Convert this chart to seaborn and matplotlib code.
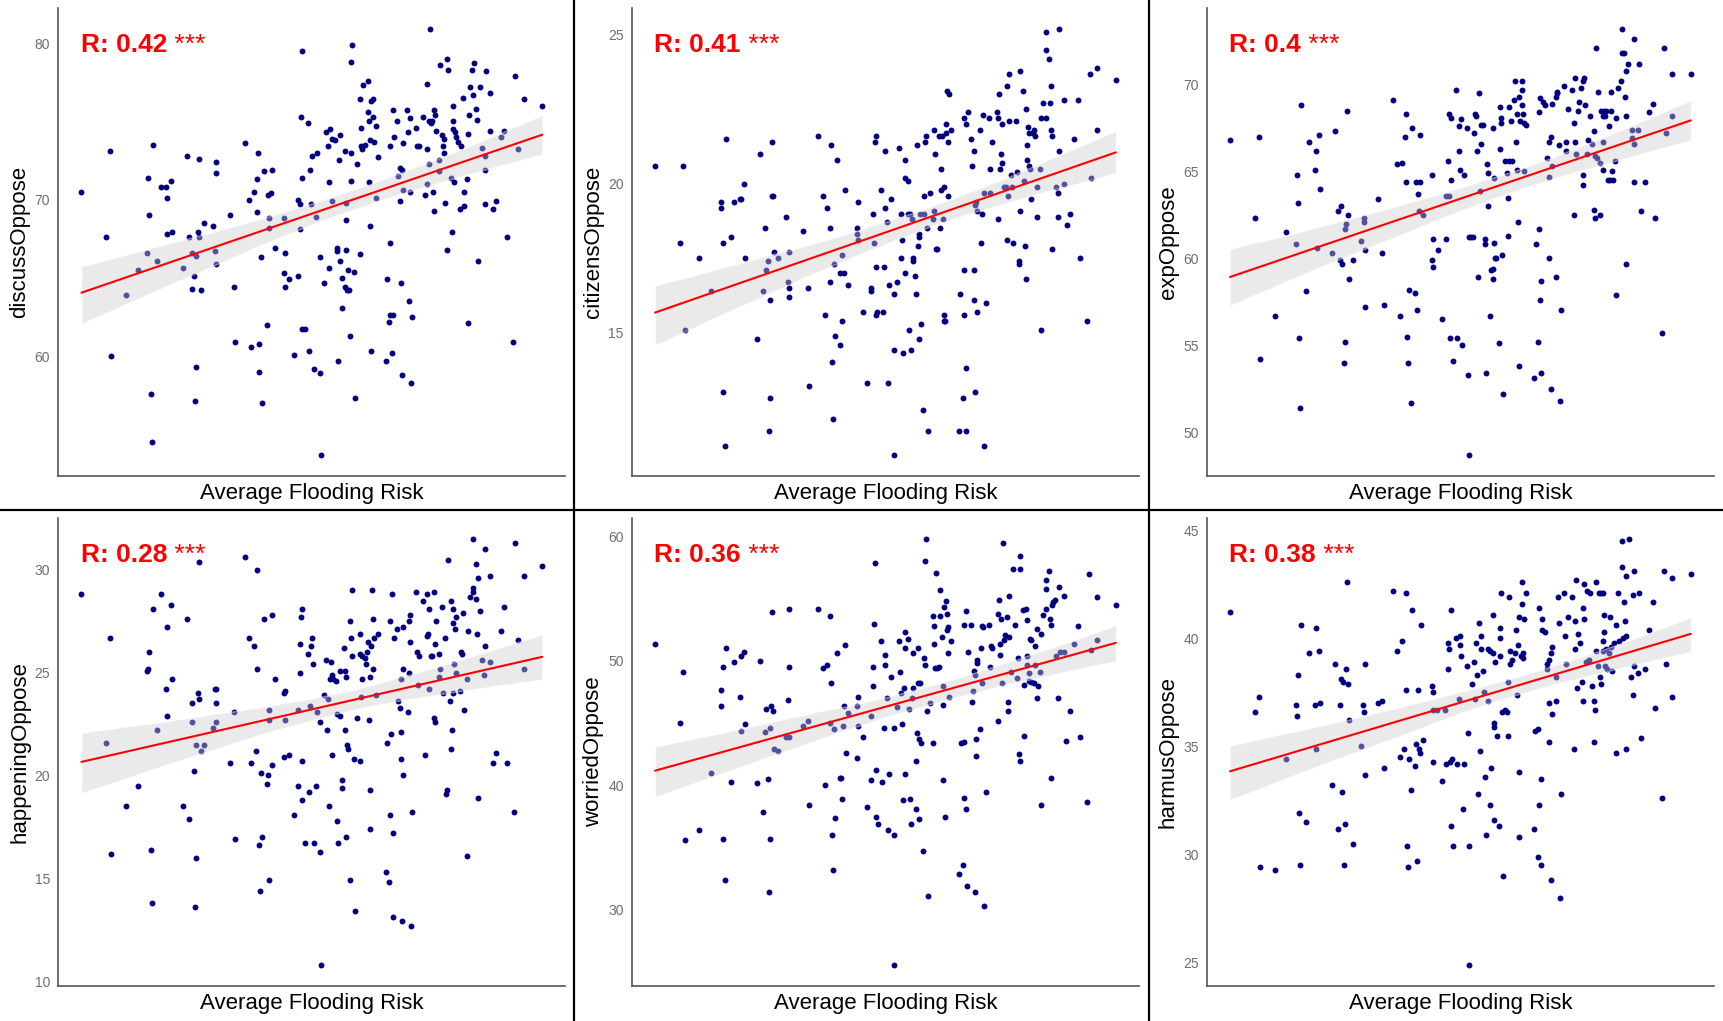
import pandas as pd
import matplotlib.pyplot as plt
import seaborn as sns
from matplotlib.lines import Line2D

# (average flooding risk, % oppose)
discuss_pts = [(2.26,70.5),(2.94,67.6),(3.05,73.1),(3.08,60.0),(3.48,63.9),(3.80,65.5),(4.06,66.6),(4.08,71.4),(4.12,69.0),(4.16,57.6),(4.19,54.5),(4.22,73.5),(4.34,66.1),(4.45,70.8),(4.59,70.8),(4.62,70.1),(4.61,67.8),(4.74,67.9),(4.72,71.2),(5.06,65.6),(5.17,72.8),(5.22,67.6),(5.30,66.6),(5.34,65.1),(5.30,64.3),(5.38,57.1),(5.41,59.3),(5.42,66.4),(5.45,67.9),(5.49,67.6),(5.48,72.6),(5.54,64.2),(5.63,68.5),(5.86,68.3),(5.92,66.7),(5.95,72.4),(5.96,71.7),(5.96,65.9),(6.33,69.0),(6.46,64.4),(6.49,60.9),(6.75,73.6),(6.87,70.0),(6.93,60.6),(7.00,70.5),(7.08,69.2),(7.07,71.3),(7.10,73.0),(7.13,60.8),(7.15,59.0),(7.19,66.3),(7.22,57.0),(7.28,71.8),(7.35,62.0),(7.38,70.3),(7.41,68.8),(7.42,68.2),(7.48,70.4),(7.50,71.9),(7.57,66.9),(7.83,68.8),(7.85,66.6),(7.83,65.3),(7.85,64.4),(7.97,64.9),(8.11,60.1),(8.20,65.1),(8.26,68.1),(8.22,70.0),(8.26,69.7),(8.29,75.3),(8.31,79.5),(8.33,71.4),(8.33,61.7),(8.39,61.7),(8.48,74.9),(8.51,60.3),(8.53,71.9),(8.57,69.7),(8.58,72.8),(8.66,59.2),(8.70,68.9),(8.74,73.0),(8.81,58.9),(8.83,53.7),(8.82,66.3),(8.92,64.7),(8.99,74.3),(9.03,73.4),(9.05,71.1),(9.07,65.6),(9.10,74.5),(9.13,69.9),(9.15,73.9),(9.22,73.8),(9.28,66.9),(9.29,66.7),(9.30,59.7),(9.33,72.5),(9.35,74.1),(9.36,66.1),(9.42,65.0),(9.43,63.1),(9.50,73.1),(9.50,64.4),(9.52,69.8),(9.52,68.7),(9.53,66.8),(9.55,64.2),(9.57,65.5),(9.60,64.2),(9.65,61.3),(9.67,71.2),(9.67,73.0),(9.67,78.8),(9.70,79.9),(9.75,65.4),(9.78,57.3),(9.83,72.3),(9.90,66.5),(9.91,76.4),(9.93,74.6),(9.93,73.4),(10.00,77.3),(9.98,73.2),(10.05,73.5),(10.12,77.6),(10.13,75.6),(10.15,71.1),(10.16,75.0),(10.18,68.3),(10.19,73.8),(10.21,60.3),(10.22,76.3),(10.26,76.4),(10.28,75.3),(10.30,73.7),(10.34,74.7),(10.35,70.1),(10.40,72.7),(10.63,59.7),(10.65,64.9),(10.72,62.2),(10.75,73.4),(10.75,67.2),(10.75,62.6),(10.81,75.7),(10.80,60.2),(10.83,62.6),(10.85,74.0),(10.93,75.0),(10.97,71.5),(11.00,69.9),(11.01,72.0),(11.04,64.7),(11.06,58.8),(11.08,71.9),(11.10,70.6),(11.10,73.6),(11.21,75.7),(11.24,74.3),(11.25,63.5),(11.28,75.2),(11.29,70.5),(11.32,58.3),(11.35,62.5),(11.46,74.6),(11.49,73.4),(11.52,73.4),(11.65,75.3),(11.70,70.3),(11.74,77.4),(11.74,73.2),(11.76,71.0),(11.80,72.3),(11.83,80.9),(11.80,75.0),(11.86,74.9),(11.90,75.0),(11.93,70.5),(11.94,69.3),(11.95,75.7),(11.97,75.4),(12.00,74.4),(12.07,72.5),(12.09,71.8),(12.11,78.6),(12.17,74.1),(12.20,73.4),(12.22,73.9),(12.25,69.8),(12.29,66.8),(12.31,79.0),(12.33,78.3),(12.21,73.0),(12.40,71.4),(12.43,67.9),(12.46,76.0),(12.46,75.0),(12.48,74.5),(12.50,71.1),(12.52,74.3),(12.56,74.0),(12.60,73.7),(12.65,69.4),(12.70,73.4),(12.74,76.5),(12.76,69.6),(12.77,70.5),(12.85,71.3),(12.87,62.1),(12.88,74.2),(12.92,75.4),(12.94,77.2),(13.00,78.3),(13.02,76.7),(13.05,78.7),(13.11,75.8),(13.14,75.1),(13.16,66.1),(13.21,77.2),(13.27,73.3),(13.34,72.8),(13.34,71.9),(13.34,69.7),(13.37,78.2),(13.49,76.8),(13.49,74.4),(13.56,69.4),(13.66,69.9),(13.78,74.0),(13.87,74.4),(13.94,67.6),(14.12,60.9),(14.18,77.9),(14.26,73.2),(14.41,76.4),(14.92,76.0)]

citizens_pts = [(2.22,20.6),(2.90,18.0),(2.99,20.6),(3.04,15.1),(3.43,17.5),(3.75,16.4),(4.01,19.4),(4.03,19.2),(4.06,18.0),(4.08,13.0),(4.12,11.2),(4.16,21.5),(4.28,18.2),(4.37,19.4),(4.54,19.5),(4.57,19.5),(4.65,20.0),(4.67,17.5),(5.01,14.8),(5.09,21.0),(5.16,16.4),(5.21,18.5),(5.24,17.1),(5.29,17.4),(5.32,11.7),(5.34,12.8),(5.35,16.1),(5.40,21.4),(5.40,19.6),(5.44,19.6),(5.47,17.7),(5.56,17.5),(5.78,18.9),(5.84,16.7),(5.87,16.5),(5.88,16.2),(5.88,17.7),(6.26,18.4),(6.38,16.5),(6.42,13.2),(6.66,21.6),(6.79,19.6),(6.85,15.6),(6.90,19.2),(6.98,16.7),(7.00,18.5),(7.01,21.3),(7.03,14.0),(7.07,12.1),(7.11,17.3),(7.13,14.9),(7.18,20.8),(7.26,14.6),(7.27,17.0),(7.31,15.4),(7.31,17.6),(7.36,17.0),(7.41,19.8),(7.47,16.6),(7.72,18.5),(7.73,18.3),(7.74,19.4),(7.75,18.1),(7.88,15.7),(8.00,13.3),(8.10,16.5),(8.11,16.4),(8.16,19.0),(8.18,18.0),(8.21,21.4),(8.23,21.6),(8.23,17.2),(8.23,15.6),(8.27,15.7),(8.38,19.8),(8.42,15.7),(8.45,17.2),(8.48,21.1),(8.49,19.2),(8.53,18.7),(8.56,13.3),(8.59,16.6),(8.66,19.5),(8.72,16.3),(8.73,14.4),(8.73,10.9),(8.81,16.7),(8.87,21.2),(8.92,19.0),(8.93,17.5),(8.94,18.1),(8.98,14.3),(9.03,20.8),(9.04,17.0),(9.04,20.2),(9.11,20.1),(9.12,19.0),(9.15,15.1),(9.18,19.0),(9.20,14.4),(9.22,18.8),(9.25,17.5),(9.26,17.4),(9.31,16.9),(9.32,16.3),(9.37,21.3),(9.38,17.9),(9.41,18.3),(9.41,18.2),(9.42,14.8),(9.43,19.0),(9.47,15.3),(9.53,12.4),(9.56,19.0),(9.56,19.6),(9.58,21.4),(9.61,21.6),(9.64,18.5),(9.67,11.7),(9.72,19.7),(9.79,18.8),(9.82,19.1),(9.82,21.8),(9.86,21.0),(9.87,17.8),(9.90,17.8),(9.97,21.6),(9.99,18.5),(10.01,20.5),(10.02,19.8),(10.04,21.6),(10.07,18.8),(10.09,15.4),(10.10,19.9),(10.10,15.6),(10.11,15.4),(10.14,21.7),(10.16,22.0),(10.17,23.1),(10.20,21.4),(10.21,19.6),(10.23,23.0),(10.29,21.8),(10.51,11.7),(10.54,16.3),(10.61,12.8),(10.63,17.1),(10.64,22.2),(10.64,15.6),(10.70,13.8),(10.70,11.7),(10.70,22.0),(10.75,22.4),(10.82,21.5),(10.86,20.6),(10.91,21.1),(10.92,17.1),(10.92,16.1),(10.94,19.3),(10.95,13.0),(10.97,19.4),(10.99,19.1),(10.99,15.7),(11.09,21.8),(11.10,18.0),(11.14,19.0),(11.17,22.3),(11.18,19.7),(11.20,11.2),(11.24,16.0),(11.33,22.2),(11.35,20.5),(11.36,19.7),(11.41,21.4),(11.53,22.4),(11.56,22.2),(11.58,18.8),(11.60,23.0),(11.63,20.5),(11.65,21.0),(11.67,20.7),(11.67,22.0),(11.73,19.9),(11.78,19.9),(11.82,18.1),(11.82,23.3),(11.84,19.6),(11.86,22.1),(11.86,23.7),(11.93,20.3),(11.96,19.9),(11.98,18.0),(12.05,22.1),(12.08,20.4),(12.15,17.3),(12.15,17.4),(12.17,19.1),(12.18,23.8),(12.25,23.1),(12.27,20.1),(12.31,17.9),(12.33,16.8),(12.34,22.5),(12.36,21.3),(12.36,20.8),(12.38,21.9),(12.40,20.6),(12.41,21.7),(12.44,20.5),(12.48,19.5),(12.52,21.7),(12.56,21.8),(12.58,21.6),(12.63,18.9),(12.64,19.9),(12.70,20.5),(12.73,15.1),(12.75,22.2),(12.80,22.7),(12.89,25.1),(12.89,24.5),(12.89,22.2),(12.95,24.2),(12.99,22.7),(13.00,23.3),(13.00,21.8),(13.03,17.8),(13.05,21.6),(13.15,19.9),(13.20,19.7),(13.21,18.9),(13.22,21.1),(13.24,25.2),(13.36,22.8),(13.38,20.0),(13.44,18.6),(13.52,19.0),(13.64,21.5),(13.74,22.8),(13.81,17.5),(13.99,15.4),(14.07,23.7),(14.11,20.2),(14.27,23.9),(14.27,21.8),(14.78,23.5)]

exp_pts = [(2.20,66.8),(2.89,62.3),(2.98,67.0),(3.02,54.2),(3.43,56.7),(3.74,61.5),(3.99,60.8),(4.02,64.8),(4.05,63.2),(4.08,55.4),(4.11,51.4),(4.14,68.8),(4.27,58.1),(4.36,66.7),(4.51,65.1),(4.56,66.2),(4.58,60.6),(4.64,67.1),(4.67,64.0),(4.99,60.3),(5.08,67.3),(5.15,62.7),(5.22,63.0),(5.19,59.9),(5.26,59.7),(5.31,54.0),(5.33,55.2),(5.33,61.7),(5.38,62.0),(5.40,68.5),(5.43,62.5),(5.46,58.8),(5.56,59.9),(5.78,61.0),(5.85,62.3),(5.87,62.1),(5.88,60.5),(5.88,57.2),(6.25,63.4),(6.36,60.3),(6.41,57.3),(6.65,69.1),(6.76,65.4),(6.85,56.7),(6.90,65.5),(6.97,67.0),(7.00,68.3),(7.00,64.4),(7.03,55.5),(7.06,54.0),(7.09,58.2),(7.13,51.7),(7.18,67.5),(7.24,58.0),(7.28,64.4),(7.31,57.0),(7.34,63.7),(7.36,62.7),(7.40,64.4),(7.40,67.1),(7.46,62.5),(7.72,64.8),(7.72,59.9),(7.74,61.1),(7.75,59.5),(7.87,60.5),(8.00,56.5),(8.10,63.6),(8.11,61.1),(8.16,65.6),(8.18,63.6),(8.19,68.3),(8.21,55.4),(8.22,64.5),(8.23,68.1),(8.28,54.1),(8.38,69.7),(8.39,55.4),(8.44,66.2),(8.45,67.6),(8.48,65.1),(8.52,68.0),(8.53,55.0),(8.59,64.8),(8.66,67.5),(8.71,53.3),(8.72,48.7),(8.72,61.2),(8.78,61.2),(8.83,61.2),(8.86,67.2),(8.89,68.3),(8.91,68.2),(8.94,66.2),(8.96,58.9),(9.00,69.5),(9.03,63.9),(9.05,66.6),(9.06,67.7),(9.12,67.7),(9.16,61.1),(9.16,60.8),(9.19,53.4),(9.22,65.4),(9.25,64.9),(9.25,63.0),(9.31,56.7),(9.32,59.3),(9.37,67.5),(9.37,58.8),(9.39,59.4),(9.41,64.6),(9.41,60.9),(9.44,60.0),(9.47,60.0),(9.54,55.1),(9.56,66.3),(9.57,68.7),(9.60,68.1),(9.59,67.8),(9.63,60.2),(9.65,52.2),(9.70,65.6),(9.76,64.9),(9.78,61.3),(9.79,63.5),(9.81,65.6),(9.83,68.7),(9.88,67.9),(9.90,65.6),(9.96,69.1),(9.99,70.2),(10.00,66.7),(10.03,68.3),(10.03,65.1),(10.06,62.1),(10.08,69.3),(10.10,53.8),(10.12,67.9),(10.16,70.2),(10.16,69.7),(10.18,68.8),(10.20,68.3),(10.22,65.0),(10.22,67.8),(10.27,67.7),(10.51,53.1),(10.55,60.8),(10.61,55.2),(10.64,68.4),(10.64,61.7),(10.65,57.6),(10.67,69.2),(10.70,58.7),(10.70,53.4),(10.74,69.0),(10.80,68.8),(10.85,65.8),(10.90,64.7),(10.91,66.7),(10.92,60.0),(10.95,52.5),(10.97,67.0),(10.98,68.9),(11.00,65.3),(11.10,69.3),(11.10,58.9),(11.12,69.5),(11.13,69.6),(11.18,66.5),(11.20,51.8),(11.24,57.0),(11.33,69.9),(11.36,66.7),(11.36,66.2),(11.42,68.6),(11.54,69.7),(11.58,62.5),(11.60,67.8),(11.62,70.4),(11.63,66.7),(11.64,66.0),(11.71,68.5),(11.73,69.0),(11.77,69.8),(11.83,64.8),(11.84,64.2),(11.85,70.2),(11.86,70.4),(11.88,68.8),(11.95,66.0),(11.98,66.8),(12.03,68.2),(12.08,66.6),(12.13,67.3),(12.14,62.8),(12.16,62.3),(12.17,65.9),(12.20,72.1),(12.23,65.8),(12.26,69.6),(12.29,62.5),(12.29,65.5),(12.34,68.5),(12.37,66.7),(12.38,68.2),(12.39,65.1),(12.40,68.5),(12.43,68.2),(12.47,68.5),(12.52,64.5),(12.56,67.6),(12.58,64.5),(12.59,68.5),(12.61,69.6),(12.64,65.0),(12.66,64.5),(12.70,65.6),(12.73,57.9),(12.74,68.1),(12.80,69.8),(12.87,70.2),(12.90,73.2),(12.89,71.8),(12.97,71.8),(12.98,69.3),(13.01,70.8),(13.02,68.2),(13.02,59.7),(13.06,71.2),(13.17,67.4),(13.18,66.9),(13.22,64.4),(13.22,66.6),(13.24,72.6),(13.35,67.4),(13.36,71.2),(13.42,62.7),(13.53,64.4),(13.65,68.4),(13.74,68.9),(13.81,62.3),(13.99,55.7),(14.05,72.1),(14.11,67.2),(14.27,70.6),(14.28,68.2),(14.78,70.6)]

happening_pts = [(2.26,28.8),(2.94,21.6),(3.05,26.7),(3.08,16.2),(3.48,18.5),(3.80,19.5),(4.06,25.1),(4.08,25.2),(4.11,26.0),(4.16,16.4),(4.19,13.8),(4.22,28.1),(4.34,22.2),(4.45,28.8),(4.59,24.2),(4.62,27.2),(4.62,22.9),(4.72,28.3),(4.75,24.7),(5.06,18.5),(5.16,27.6),(5.22,17.9),(5.30,22.6),(5.31,23.5),(5.35,20.2),(5.38,13.6),(5.41,16.0),(5.42,21.5),(5.45,24.0),(5.48,30.4),(5.49,23.7),(5.54,21.2),(5.63,21.5),(5.86,22.3),(5.92,24.2),(5.96,23.5),(5.96,24.2),(5.96,22.6),(6.33,20.6),(6.46,23.1),(6.49,16.9),(6.75,30.6),(6.87,26.7),(6.93,20.6),(7.00,26.3),(7.05,21.2),(7.09,25.2),(7.09,30.0),(7.13,16.6),(7.16,14.4),(7.18,20.1),(7.21,17.0),(7.28,27.6),(7.35,19.6),(7.38,20.0),(7.41,14.9),(7.42,23.2),(7.42,22.7),(7.50,27.8),(7.50,20.5),(7.57,24.7),(7.82,24.0),(7.85,24.1),(7.83,20.9),(7.85,22.7),(7.97,21.0),(8.11,18.1),(8.20,19.5),(8.20,23.2),(8.26,26.4),(8.26,25.0),(8.29,27.7),(8.32,28.1),(8.33,20.7),(8.33,18.8),(8.39,16.7),(8.48,25.9),(8.51,19.2),(8.55,23.4),(8.57,26.3),(8.58,26.7),(8.63,25.4),(8.66,16.7),(8.70,19.5),(8.74,23.1),(8.80,22.6),(8.82,16.3),(8.83,10.8),(8.93,23.9),(8.98,25.6),(9.00,22.2),(9.04,23.7),(9.07,18.5),(9.09,24.7),(9.12,25.5),(9.13,21.0),(9.15,24.9),(9.18,24.7),(9.25,24.6),(9.27,17.8),(9.29,23.0),(9.30,16.7),(9.35,22.9),(9.36,25.1),(9.41,19.8),(9.42,19.4),(9.47,26.2),(9.49,22.2),(9.51,25.1),(9.52,24.8),(9.52,17.0),(9.55,21.5),(9.58,21.3),(9.63,14.9),(9.65,27.5),(9.67,26.7),(9.68,25.8),(9.70,29.0),(9.75,20.8),(9.77,13.4),(9.83,22.8),(9.90,20.7),(9.91,25.9),(9.92,26.9),(9.93,23.8),(9.97,25.8),(9.98,24.7),(10.04,25.7),(10.08,25.4),(10.11,26.0),(10.14,26.5),(10.15,22.7),(10.18,19.3),(10.19,24.8),(10.20,17.4),(10.21,26.3),(10.25,29.0),(10.26,27.6),(10.27,25.2),(10.31,26.7),(10.35,23.9),(10.40,26.9),(10.63,15.3),(10.66,21.6),(10.72,14.8),(10.75,27.5),(10.75,18.1),(10.76,22.0),(10.80,28.8),(10.81,17.2),(10.82,13.1),(10.85,26.7),(10.93,27.1),(10.97,23.6),(11.00,23.3),(11.03,22.1),(11.04,24.7),(11.04,20.8),(11.06,12.9),(11.09,27.2),(11.09,20.0),(11.10,25.2),(11.22,23.1),(11.25,25.0),(11.25,27.5),(11.29,27.8),(11.29,26.5),(11.32,12.7),(11.35,18.2),(11.44,28.9),(11.47,26.0),(11.50,24.4),(11.54,25.8),(11.65,28.5),(11.69,21.0),(11.74,26.8),(11.75,28.8),(11.78,26.9),(11.81,28.1),(11.81,24.2),(11.86,25.8),(11.89,25.8),(11.94,28.9),(11.95,22.8),(11.96,22.6),(11.98,26.4),(11.99,27.5),(12.07,25.9),(12.07,24.8),(12.12,25.2),(12.17,28.2),(12.20,24.0),(12.26,26.7),(12.27,19.1),(12.30,19.3),(12.33,30.5),(12.39,23.6),(12.40,28.5),(12.42,21.3),(12.45,22.2),(12.47,27.4),(12.48,28.1),(12.48,24.0),(12.49,25.4),(12.52,27.1),(12.54,27.7),(12.55,25.0),(12.65,24.1),(12.70,26.0),(12.72,25.9),(12.74,27.9),(12.77,23.2),(12.85,24.7),(12.86,16.1),(12.87,27.0),(12.93,28.7),(13.01,31.5),(13.02,29.1),(13.02,28.9),(13.09,30.3),(13.10,28.6),(13.14,26.9),(13.15,29.6),(13.16,18.9),(13.22,28.0),(13.27,25.6),(13.33,24.9),(13.34,31.0),(13.35,26.3),(13.49,29.7),(13.49,25.5),(13.56,20.6),(13.66,21.1),(13.78,27.0),(13.87,28.2),(13.94,20.6),(14.13,18.2),(14.18,31.3),(14.26,26.6),(14.41,29.7),(14.41,25.2),(14.92,30.2)]

worried_pts = [(2.22,51.4),(2.90,45.0),(2.99,49.1),(3.04,35.6),(3.43,36.4),(3.75,41.0),(4.01,46.4),(4.03,47.7),(4.06,49.5),(4.08,35.7),(4.12,32.4),(4.16,51.0),(4.28,40.3),(4.37,49.9),(4.54,47.1),(4.57,50.4),(4.65,50.7),(4.67,44.9),(4.57,44.4),(5.01,40.2),(5.09,50.0),(5.16,37.9),(5.21,44.3),(5.24,46.1),(5.29,40.5),(5.32,31.4),(5.34,44.6),(5.35,35.7),(5.40,53.9),(5.38,46.4),(5.44,46.0),(5.47,42.9),(5.56,42.8),(5.78,43.9),(5.86,54.2),(5.85,46.9),(5.88,49.5),(5.88,43.9),(6.26,44.8),(6.38,45.2),(6.42,38.4),(6.66,54.2),(6.79,49.4),(6.85,40.0),(6.90,49.7),(6.98,45.0),(7.00,53.6),(7.01,48.2),(7.03,36.0),(7.07,33.2),(7.11,44.5),(7.13,37.4),(7.18,50.6),(7.26,40.6),(7.28,40.6),(7.31,38.9),(7.33,44.8),(7.37,46.4),(7.41,51.3),(7.42,42.6),(7.47,45.8),(7.72,42.2),(7.72,46.4),(7.75,44.8),(7.75,47.1),(7.88,43.9),(8.00,38.3),(8.10,40.4),(8.11,45.6),(8.16,48.0),(8.17,49.5),(8.19,53.0),(8.22,57.9),(8.23,41.2),(8.23,37.5),(8.29,36.9),(8.38,51.6),(8.41,40.3),(8.45,44.6),(8.48,50.5),(8.49,49.7),(8.53,47.0),(8.56,36.4),(8.59,40.9),(8.66,48.7),(8.72,44.6),(8.72,36.0),(8.73,25.6),(8.81,46.3),(8.87,51.6),(8.91,49.1),(8.93,47.4),(8.95,44.9),(8.98,38.8),(9.00,47.8),(9.04,52.3),(9.04,40.9),(9.04,51.0),(9.11,51.8),(9.14,46.1),(9.16,38.9),(9.20,36.9),(9.22,47.0),(9.25,50.6),(9.26,47.8),(9.32,42.0),(9.33,38.1),(9.37,44.2),(9.38,51.0),(9.40,48.2),(9.41,43.7),(9.41,37.3),(9.43,48.2),(9.47,43.4),(9.53,34.7),(9.56,50.2),(9.57,49.7),(9.57,58.0),(9.61,59.8),(9.64,46.0),(9.67,31.1),(9.72,46.6),(9.79,53.6),(9.80,43.4),(9.82,51.4),(9.83,52.8),(9.86,49.4),(9.88,57.1),(9.90,49.4),(9.97,49.5),(10.00,53.6),(10.00,55.7),(10.05,51.9),(10.06,46.5),(10.07,48.0),(10.08,40.4),(10.09,54.3),(10.12,37.5),(10.16,54.8),(10.18,53.8),(10.19,52.5),(10.20,50.6),(10.21,52.7),(10.23,47.1),(10.30,51.6),(10.51,32.9),(10.55,43.4),(10.62,33.6),(10.64,43.5),(10.64,39.0),(10.64,52.9),(10.70,54.0),(10.70,38.1),(10.71,31.9),(10.74,50.7),(10.83,52.9),(10.86,46.7),(10.90,47.6),(10.92,49.2),(10.93,48.9),(10.95,31.4),(10.97,42.4),(10.98,43.7),(10.99,50.1),(11.00,49.8),(11.09,44.5),(11.10,51.0),(11.13,48.2),(11.14,52.8),(11.17,52.7),(11.20,30.3),(11.24,39.5),(11.33,52.9),(11.35,49.5),(11.37,51.2),(11.41,51.0),(11.56,53.8),(11.58,45.2),(11.60,54.9),(11.62,51.4),(11.63,50.5),(11.64,53.4),(11.67,48.2),(11.70,59.5),(11.72,51.7),(11.76,52.1),(11.80,53.5),(11.83,46.0),(11.83,46.7),(11.86,55.2),(11.87,51.9),(11.93,49.1),(11.98,57.4),(12.04,52.9),(12.08,48.6),(12.12,50.2),(12.14,42.5),(12.16,42.0),(12.17,58.4),(12.18,57.4),(12.25,54.1),(12.27,48.1),(12.29,44.0),(12.34,54.2),(12.35,50.4),(12.36,49.7),(12.37,53.3),(12.40,48.4),(12.40,49.0),(12.43,51.8),(12.46,51.7),(12.47,48.3),(12.55,48.2),(12.58,51.2),(12.59,49.7),(12.62,52.6),(12.63,47.0),(12.65,48.0),(12.70,49.1),(12.73,52.2),(12.73,38.4),(12.79,53.7),(12.87,54.2),(12.88,55.8),(12.89,56.5),(12.96,57.2),(12.99,53.4),(13.00,52.9),(13.02,40.6),(13.04,54.5),(13.07,54.7),(13.11,54.9),(13.15,50.4),(13.20,47.0),(13.23,55.9),(13.26,50.7),(13.36,50.7),(13.36,55.2),(13.43,43.6),(13.52,46.0),(13.64,51.4),(13.74,52.8),(13.81,43.9),(13.99,38.7),(14.05,57.0),(14.11,50.9),(14.27,55.1),(14.27,51.7),(14.78,54.5)]

harmus_pts = [(2.20,41.2),(2.89,36.6),(2.98,37.3),(3.02,29.4),(3.43,29.3),(3.74,34.4),(3.99,36.9),(4.02,36.4),(4.05,38.3),(4.08,31.9),(4.11,29.5),(4.14,40.6),(4.27,31.5),(4.36,39.3),(4.51,36.9),(4.56,40.5),(4.56,34.9),(4.64,39.4),(4.67,37.0),(4.99,33.2),(5.08,38.8),(5.15,31.2),(5.20,36.9),(5.22,38.1),(5.26,32.9),(5.29,38.0),(5.31,29.5),(5.33,31.4),(5.38,38.6),(5.40,42.6),(5.41,37.9),(5.45,36.2),(5.56,30.5),(5.77,35.0),(5.84,36.9),(5.87,36.6),(5.88,38.8),(5.88,33.7),(6.23,37.0),(6.35,37.1),(6.41,34.0),(6.65,42.2),(6.77,39.4),(6.84,34.5),(6.90,39.9),(6.96,34.9),(7.00,37.6),(7.00,42.1),(7.03,30.4),(7.06,29.4),(7.09,34.4),(7.13,33.0),(7.18,41.3),(7.24,34.1),(7.28,35.1),(7.31,29.7),(7.33,37.6),(7.36,34.9),(7.40,34.7),(7.41,40.6),(7.46,35.3),(7.72,37.8),(7.73,34.3),(7.75,37.5),(7.75,36.7),(7.86,36.7),(8.00,33.4),(8.08,36.7),(8.10,34.2),(8.16,38.6),(8.16,39.8),(8.19,39.5),(8.20,34.3),(8.22,31.3),(8.22,41.3),(8.25,34.4),(8.28,30.4),(8.37,40.0),(8.41,34.2),(8.44,37.2),(8.48,40.1),(8.48,39.7),(8.52,39.2),(8.57,32.1),(8.60,34.2),(8.66,38.7),(8.71,35.6),(8.72,30.4),(8.72,24.9),(8.82,37.9),(8.86,38.9),(8.88,37.2),(8.91,39.8),(8.95,38.3),(8.97,32.8),(9.00,40.7),(9.03,34.8),(9.04,40.1),(9.05,39.5),(9.12,38.5),(9.14,37.5),(9.17,33.6),(9.19,30.9),(9.24,37.1),(9.25,39.5),(9.31,32.3),(9.31,39.4),(9.33,34.0),(9.37,41.1),(9.37,39.3),(9.40,36.1),(9.41,31.6),(9.42,35.9),(9.43,38.9),(9.48,35.5),(9.54,31.3),(9.56,40.5),(9.57,40.0),(9.58,39.2),(9.60,42.1),(9.63,36.6),(9.66,29.0),(9.70,36.7),(9.75,36.6),(9.79,35.5),(9.79,38.0),(9.81,41.9),(9.84,39.4),(9.85,38.8),(9.91,39.0),(9.98,39.3),(10.00,40.4),(10.03,37.4),(10.06,39.7),(10.08,33.8),(10.10,41.0),(10.10,30.8),(10.14,39.2),(10.16,42.6),(10.17,41.6),(10.19,39.3),(10.20,39.1),(10.22,40.9),(10.29,42.1),(10.51,31.2),(10.54,35.7),(10.61,35.8),(10.63,41.4),(10.64,32.3),(10.61,29.9),(10.70,29.5),(10.70,33.5),(10.71,40.4),(10.73,40.9),(10.80,40.3),(10.85,38.6),(10.86,38.8),(10.90,35.2),(10.91,37.0),(10.92,39.0),(10.95,28.8),(10.97,39.3),(10.98,36.5),(10.99,39.6),(11.10,38.2),(11.10,37.1),(11.16,41.9),(11.17,40.7),(11.20,28.0),(11.24,32.8),(11.33,42.1),(11.35,40.1),(11.37,38.8),(11.42,41.0),(11.55,41.9),(11.58,34.9),(11.62,39.5),(11.63,40.8),(11.64,42.7),(11.66,37.7),(11.70,40.2),(11.76,39.8),(11.82,38.0),(11.83,37.1),(11.85,41.4),(11.86,42.5),(11.87,40.9),(11.93,38.9),(11.96,42.2),(12.00,39.0),(12.04,42.1),(12.08,37.8),(12.14,37.1),(12.15,35.2),(12.17,36.7),(12.18,39.4),(12.18,42.6),(12.25,38.7),(12.28,42.1),(12.30,38.2),(12.32,37.9),(12.33,42.1),(12.37,42.1),(12.38,39.9),(12.39,39.4),(12.40,40.3),(12.41,41.1),(12.44,38.7),(12.46,39.5),(12.49,38.6),(12.55,39.3),(12.57,41.0),(12.59,39.6),(12.62,38.5),(12.69,39.8),(12.73,34.7),(12.74,40.6),(12.80,42.1),(12.83,39.9),(12.89,44.5),(12.91,43.3),(12.94,40.0),(12.96,41.7),(12.98,40.8),(13.00,42.9),(13.02,34.9),(13.02,40.1),(13.08,44.6),(13.15,38.2),(13.20,42.0),(13.21,37.4),(13.22,38.7),(13.24,43.1),(13.35,38.4),(13.36,42.1),(13.42,35.4),(13.52,38.6),(13.65,40.4),(13.74,41.7),(13.81,36.8),(13.99,32.6),(14.05,43.1),(14.11,38.8),(14.27,42.8),(14.27,37.3),(14.78,43.0)]

panel_cols = ['discussOppose', 'citizensOppose', 'expOppose',
              'happeningOppose', 'worriedOppose', 'harmusOppose']
r_labels = ['R: 0.42', 'R: 0.41', 'R: 0.4', 'R: 0.28', 'R: 0.36', 'R: 0.38']
y_ticks = [[60, 70, 80], [15, 20, 25], [50, 55, 60, 65, 70],
           [10, 15, 20, 25, 30], [30, 40, 50, 60], [25, 30, 35, 40, 45]]
all_pts = [discuss_pts, citizens_pts, exp_pts, happening_pts, worried_pts, harmus_pts]

sns.set_theme(style='white')
plt.rcParams['font.family'] = ['Liberation Sans', 'DejaVu Sans']


def plot_panel(ax, pts, column, r_label, ticks):
    df = pd.DataFrame(pts, columns=['risk', column])
    sns.scatterplot(x='risk', y=column, data=df, ax=ax, color='#000080',
                    s=18, linewidth=0)
    # light grey confidence band drawn over the points, like geom_smooth
    sns.regplot(x='risk', y=column, data=df, ax=ax, scatter=False,
                color='#cccccc', seed=1, line_kws={'alpha': 0})
    ax.collections[-1].set_alpha(0.4)
    sns.regplot(x='risk', y=column, data=df, ax=ax, scatter=False, ci=None,
                color='red', line_kws={'lw': 1.5})
    sns.despine(ax=ax)
    for side in ['left', 'bottom']:
        ax.spines[side].set_color('#555555')
        ax.spines[side].set_linewidth(1.2)
    ax.set_xticks([])
    ax.set_yticks(ticks)
    ax.tick_params(axis='y', length=0, pad=6, labelsize=10, labelcolor='#6e6e6e')
    ax.set_xlabel('Average Flooding Risk', fontsize=16, labelpad=5, color='black')
    ax.set_ylabel(column, fontsize=16, labelpad=3, color='black')
    t = ax.text(0.044, 0.906, r_label, transform=ax.transAxes, color='red',
                fontsize=19, fontweight='bold', va='baseline')
    ax.annotate(' ***', xy=(1, 0), xycoords=t, va='bottom', ha='left',
                color='red', fontsize=19)


fig = plt.figure(figsize=(17.24, 10.21), dpi=100)
lefts = [0.0339, 0.3666, 0.7001]
bottoms = [0.5338, 0.0343]
for i, (pts, col, lab, ticks) in enumerate(zip(all_pts, panel_cols, r_labels, y_ticks)):
    ax = fig.add_axes([lefts[i % 3], bottoms[i // 3], 0.294, 0.4587])
    plot_panel(ax, pts, col, lab, ticks)

# black divider lines between the panels
for xv in [0.3332, 0.6665]:
    fig.add_artist(Line2D([xv, xv], [0, 1], color='black', lw=1.6,
                          transform=fig.transFigure))
fig.add_artist(Line2D([0, 1], [0.5005, 0.5005], color='black', lw=1.6,
                      transform=fig.transFigure))

fig.savefig('out.png', dpi=100)
